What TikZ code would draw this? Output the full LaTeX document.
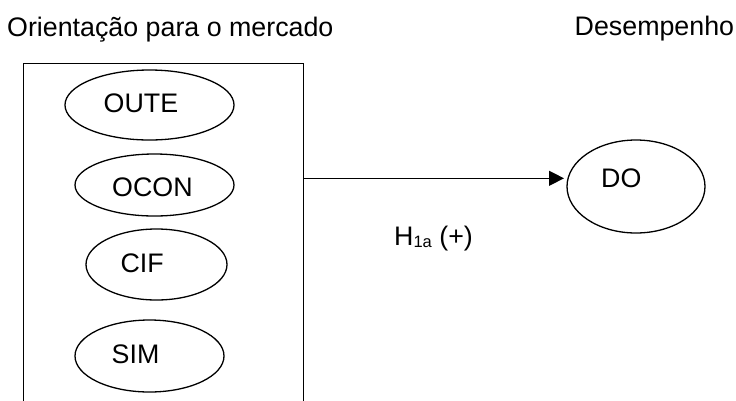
\documentclass[tikz,border=0pt]{standalone}
\usepackage{fontspec}
\setmainfont{Liberation Sans}
\usetikzlibrary{shapes.geometric,arrows.meta}
\begin{document}
\begin{tikzpicture}[x=1pt,y=-1pt,
  ell/.style={draw,ellipse,line width=1.3pt,inner sep=0pt},
  txt/.style={anchor=base west,inner sep=0pt,font=\fontsize{26.8}{30}\selectfont},
  frame/.style={draw,line width=1.3pt,inner sep=0pt,anchor=north west},
  arr/.style={line width=1.3pt,-{Triangle[length=15pt,width=15pt]}}]
\useasboundingbox (0,0) rectangle (736,400);
\clip (0,0) rectangle (736,400);
% titles
\node[txt] (t1) at (7,36.5) {Orientação para o mercado};
\node[txt] (t2) at (574.5,35.5) {Desempenho};
% frame
\node[frame,minimum width=280pt,minimum height=360pt] (box) at (23,63) {};
% ellipses
\node[ell,minimum width=169pt,minimum height=70pt] (oute) at (149.5,105) {};
\node[ell,minimum width=159pt,minimum height=62pt] (ocon) at (154.5,185) {};
\node[ell,minimum width=141pt,minimum height=71pt] (cif) at (156.5,264.5) {};
\node[ell,minimum width=149pt,minimum height=72pt] (sim) at (149.5,356) {};
\node[ell,minimum width=138pt,minimum height=93pt] (do) at (636,186.5) {};
% labels
\node[txt] (loute) at (103.5,112.5) {OUTE};
\node[txt] (locon) at (112,196) {OCON};
\node[txt] (lcif) at (120.3,272.5) {CIF};
\node[txt] (lsim) at (111.5,363) {SIM};
\node[txt] (ldo) at (601,187) {DO};
\node[txt] (h) at (394,245) {H\raisebox{-2.5pt}{\fontsize{16.5}{17}\selectfont 1a} (+)};
% connector
\coordinate (a0) at (box.north east |- 0,178.3);
\coordinate (a1) at (564,178.3);
\draw[arr] (a0) -- (a1);
\end{tikzpicture}
\end{document}
